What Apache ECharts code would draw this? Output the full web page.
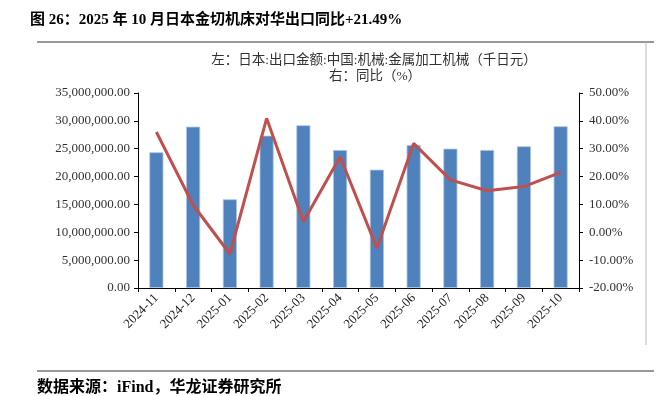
<!DOCTYPE html>
<html><head><meta charset="utf-8">
<script src="https://cdn.jsdelivr.net/npm/echarts@6/dist/echarts.min.js"></script>
<style>html,body{margin:0;padding:0;background:#fff}#c{width:672px;height:396px}</style>
</head><body><div id="c"></div>
<script>
const categories = ['2024-11','2024-12','2025-01','2025-02','2025-03','2025-04','2025-05','2025-06','2025-07','2025-08','2025-09','2025-10'];
const exportValues = [24360000, 28950000, 15920000, 27340000, 29200000, 24770000, 21230000, 25670000, 25000000, 24770000, 25430000, 29020000];
const yoyValues = [36.0, 9.8, -7.8, 40.9, 3.8, 27.1, -5.7, 31.9, 18.8, 14.9, 16.4, 21.49];
const titleText = '图 26：2025 年 10 月日本金切机床对华出口同比+21.49%';
const legendLeft = '左：日本:出口金额:中国:机械:金属加工机械（千日元）';
const legendRight = '右：同比（%）';
const sourceText = '数据来源：iFind，华龙证券研究所';

const FONT = "'Liberation Serif', 'Noto Sans CJK SC', serif";
const chart = echarts.init(document.getElementById('c'));
function fmtNum(v){
  return v.toLocaleString('en-US',{minimumFractionDigits:2,maximumFractionDigits:2});
}
chart.setOption({
  animation:false,
  backgroundColor:'#fff',
  grid:{left:138, right:93, top:93, bottom:108},
  graphic:[
    {type:'text', left:30, top:13, style:{text:titleText, font:"bold 15px "+FONT, fill:'#000'}},
    {type:'line', shape:{x1:37,y1:42,x2:654,y2:42}, style:{stroke:'#333', lineWidth:1}},
    {type:'line', shape:{x1:646,y1:42,x2:646,y2:345}, style:{stroke:'#bbb', lineWidth:1}},
    {type:'text', x:374, y:60, style:{text:legendLeft, font:"13.5px "+FONT, fill:'#333', align:'center', verticalAlign:'middle'}},
    {type:'text', x:375, y:76, style:{text:legendRight, font:"13.5px "+FONT, fill:'#333', align:'center', verticalAlign:'middle'}},
    {type:'line', shape:{x1:37,y1:371,x2:654,y2:371}, style:{stroke:'#999', lineWidth:2}},
    {type:'text', left:37, top:380, style:{text:sourceText, font:"bold 16px "+FONT, fill:'#000'}}
  ],
  xAxis:{
    type:'category', data:categories, boundaryGap:true,
    axisLine:{lineStyle:{color:'#000', width:1}},
    axisTick:{show:true, alignWithLabel:false, length:4, lineStyle:{color:'#000'}},
    axisLabel:{rotate:45, fontFamily:FONT, fontSize:13, color:'#222', margin:8, interval:0}
  },
  yAxis:[
    {type:'value', min:0, max:35000000, interval:5000000, position:'left',
     axisLine:{show:true, lineStyle:{color:'#000'}},
     axisTick:{show:true, length:4, lineStyle:{color:'#000'}},
     splitLine:{show:false},
     axisLabel:{formatter:fmtNum, fontFamily:FONT, fontSize:13, color:'#333', margin:8}},
    {type:'value', min:-20, max:50, interval:10, position:'right',
     axisLine:{show:true, lineStyle:{color:'#000'}},
     axisTick:{show:true, length:4, lineStyle:{color:'#000'}},
     splitLine:{show:false},
     axisLabel:{formatter:v=>v.toFixed(2)+'%', fontFamily:FONT, fontSize:13, color:'#333', margin:10}}
  ],
  series:[
    {type:'bar', data:exportValues, yAxisIndex:0, barWidth:14,
     itemStyle:{color:'#4F81BD', borderColor:'#a9c2e2', borderWidth:0.8}},
    {type:'line', data:yoyValues, yAxisIndex:1, symbol:'none',
     lineStyle:{color:'#C0504D', width:3}, itemStyle:{color:'#C0504D'}}
  ]
});
</script></body></html>
